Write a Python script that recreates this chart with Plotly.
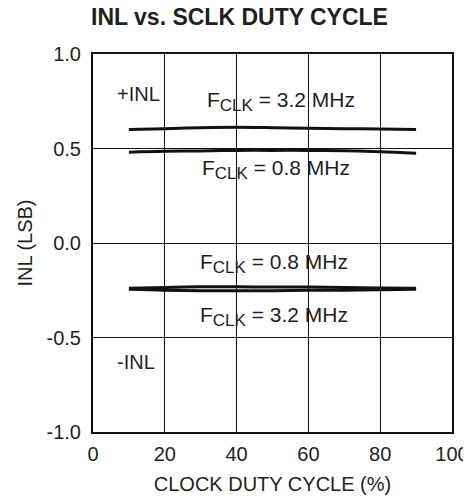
import plotly.graph_objects as go

duty = [10, 20, 30, 40, 50, 60, 70, 80, 90]
pos_32 = [0.600, 0.605, 0.610, 0.612, 0.610, 0.607, 0.605, 0.603, 0.600]
pos_08 = [0.480, 0.485, 0.487, 0.490, 0.490, 0.490, 0.488, 0.483, 0.475]
neg_08 = [-0.240, -0.235, -0.232, -0.232, -0.233, -0.233, -0.235, -0.238, -0.240]
neg_32 = [-0.245, -0.250, -0.252, -0.253, -0.252, -0.250, -0.250, -0.247, -0.245]

x_ticks = [0, 20, 40, 60, 80, 100]
y_ticks = [-1.0, -0.5, 0.0, 0.5, 1.0]
y_tick_labels = ["-1.0", "-0.5", "0.0", "0.5", "1.0"]

FONT = "Liberation Sans, Arial, sans-serif"
TXT = "#231f20"
FS = 20

SUB = "F<sub><span style='font-size:17px'>CLK</span></sub>"

fig = go.Figure()
for ys in [pos_32, pos_08, neg_08, neg_32]:
    fig.add_trace(go.Scatter(x=duty, y=ys, mode="lines",
                             line=dict(color="#111111", width=3, shape="spline"),
                             showlegend=False, hoverinfo="skip"))

ann = [
    (6, 0.79, "+INL", "left", 20),
    (52.4, 0.75, SUB + " = 3.2 MHz", "center", 21),
    (51, 0.39, SUB + " = 0.8 MHz", "center", 21),
    (50.5, -0.11, SUB + " = 0.8 MHz", "center", 21),
    (50.5, -0.39, SUB + " = 3.2 MHz", "center", 21),
    (6, -0.63, "-INL", "left", 20),
]
for x, y, t, xa, fs in ann:
    fig.add_annotation(x=x, y=y, text=t, showarrow=False, xanchor=xa,
                       font=dict(family=FONT, size=fs, color=TXT))

# page body has an 8px default margin, so the figure is sized/offset accordingly
fig.update_layout(
    width=463, height=492,
    margin=dict(l=85, r=19, t=46, b=68),
    paper_bgcolor="white", plot_bgcolor="white",
    title=dict(text="<b>INL vs. SCLK DUTY CYCLE</b>", x=0.5, xanchor="center",
               y=1 - 9 / 492, yanchor="middle",
               font=dict(family=FONT, size=23, color=TXT)),
    font=dict(family=FONT, size=FS, color=TXT),
)
fig.update_xaxes(range=[0, 100], tickvals=x_ticks, showgrid=True, gridcolor="#111111", gridwidth=1.2,
                 showline=True, linecolor="#111111", linewidth=2, mirror=True, zeroline=False,
                 ticks="", ticklabelstandoff=3, automargin=False,
                 title=dict(text="CLOCK DUTY CYCLE (%)", standoff=13,
                            font=dict(family=FONT, size=FS, color=TXT)),
                 tickfont=dict(family=FONT, size=FS, color=TXT))
fig.update_yaxes(range=[-1, 1], tickvals=y_ticks, ticktext=y_tick_labels, showgrid=True,
                 gridcolor="#111111", gridwidth=1.2,
                 showline=True, linecolor="#111111", linewidth=2, mirror=True, zeroline=False,
                 ticks="", ticklabelstandoff=6, automargin=False,
                 title=dict(text="INL (LSB)", standoff=9,
                            font=dict(family=FONT, size=FS, color=TXT)),
                 tickfont=dict(family=FONT, size=FS, color=TXT))

fig.write_html("out.html")
